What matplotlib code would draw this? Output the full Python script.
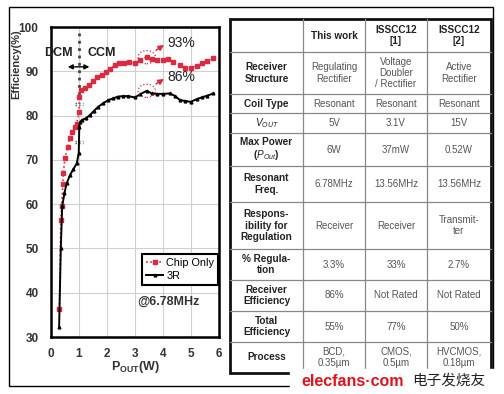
import numpy as np
import matplotlib
matplotlib.use('Agg')
import matplotlib.pyplot as plt
from matplotlib.patches import Ellipse, Rectangle

plt.rcParams['font.family'] = ['Liberation Sans', 'DejaVu Sans']
plt.rcParams['mathtext.fontset'] = 'custom'
plt.rcParams['mathtext.rm'] = 'Liberation Sans'
plt.rcParams['mathtext.it'] = 'Liberation Sans:italic'
plt.rcParams['mathtext.bf'] = 'Liberation Sans:bold'

# efficiency curves
chip_x = [0.30, 0.35, 0.38, 0.42, 0.44, 0.50, 0.60, 0.68, 0.76, 0.86,
          0.92, 1.00, 1.01, 1.08, 1.21, 1.37, 1.51, 1.65, 1.81, 1.96,
          2.11, 2.29, 2.43, 2.61, 2.80, 3.00, 3.18, 3.42, 3.60, 3.77,
          3.99, 4.19, 4.37, 4.61, 4.79, 4.99, 5.20, 5.38, 5.58, 5.80]
chip_y = [36.3, 56.5, 59.5, 64.5, 67.0, 70.5, 73.0, 75.0, 76.3, 77.5,
          78.2, 80.7, 84.3, 85.8, 86.2, 86.9, 87.7, 88.6, 89.2, 89.9,
          90.5, 91.4, 91.8, 91.8, 92.2, 91.8, 92.6, 93.2, 92.7, 92.6,
          92.6, 92.7, 92.2, 91.4, 90.8, 90.7, 91.2, 91.8, 92.3, 92.9]
r3_x = [0.29, 0.35, 0.40, 0.48, 0.56, 0.68, 0.80, 0.92, 0.99, 1.01,
        1.04, 1.10, 1.25, 1.39, 1.54, 1.69, 1.87, 2.05, 2.23, 2.40,
        2.58, 2.76, 3.00, 3.18, 3.42, 3.60, 3.77, 4.01, 4.25, 4.43,
        4.61, 4.79, 4.99, 5.20, 5.38, 5.58, 5.80]
r3_y = [32.2, 50.0, 59.5, 62.5, 64.7, 66.6, 67.9, 69.2, 71.5, 77.5,
        78.5, 79.0, 79.4, 80.1, 81.1, 82.0, 82.8, 83.5, 83.9, 84.3,
        84.4, 84.4, 84.1, 84.8, 85.6, 85.0, 84.9, 84.9, 85.0, 84.4,
        83.5, 83.3, 83.1, 83.7, 84.1, 84.5, 85.0]
peak_chip = (3.42, 93.2)
peak_r3 = (3.42, 85.6)

# comparison table
col_heads = ['', 'This work', 'ISSCC12\n[1]', 'ISSCC12\n[2]']
row_heads = ['Receiver\nStructure', 'Coil Type', r'$\mathit{V_{OUT}}$',
             'Max Power\n(' + r'$\mathit{P_{Out}}$' + ')', 'Resonant\nFreq.',
             'Respons-\nibility for\nRegulation', '% Regula-\ntion',
             'Receiver\nEfficiency', 'Total\nEfficiency', 'Process']
this_work = ['Regulating\nRectifier', 'Resonant', '5V', '6W', '6.78MHz',
             'Receiver', '3.3%', '86%', '55%', 'BCD,\n0.35\u00b5m']
isscc1 = ['Voltage\nDoubler\n/ Rectifier', 'Resonant', '3.1V', '37mW', '13.56MHz',
          'Receiver', '33%', 'Not Rated', '77%', 'CMOS,\n0.5\u00b5m']
isscc2 = ['Active\nRectifier', 'Resonant', '15V', '0.52W', '13.56MHz',
          'Transmit-\nter', '2.7%', 'Not Rated', '50%', 'HVCMOS,\n0.18\u00b5m']

# table layout in pixels
col_edges = [230, 303, 365, 427, 491]
row_edges = [19, 52, 94, 113, 133, 166, 202, 249, 280, 311, 342, 373]

W, H = 504, 394
fig = plt.figure(figsize=(W / 100, H / 100), dpi=100)

# ---- chart ----
ax = fig.add_axes([51 / W, (H - 337) / H, 168 / W, 310 / H])
ax.plot(chip_x, chip_y, color='#dc2a40', ls=':', lw=1.2, marker='s', ms=2.2,
        label='Chip Only', zorder=3)
ax.plot(r3_x, r3_y, color='black', ls='-', lw=1.4, marker='^', ms=2.0,
        label='3R', zorder=4)
ax.set_xlim(0, 6)
ax.set_ylim(30, 100)
ax.set_xticks(range(0, 7))
ax.set_yticks(range(30, 101, 10))
ax.grid(True, color='#d0d0d0', lw=0.8)
ax.tick_params(length=0, labelsize=8.5, labelcolor='#333333')
ax.tick_params(axis='y', pad=9)
ax.tick_params(axis='x', pad=8)
for lab in ax.get_xticklabels() + ax.get_yticklabels():
    lab.set_fontweight('bold')
for sp in ax.spines.values():
    sp.set_linewidth(1.8)
ax.set_ylabel('Efficiency(%)', fontsize=8, fontweight='bold', color='#333333')
ax.yaxis.set_label_coords(-0.178, 0.88)
ax.set_xlabel(r'$\mathbf{P_{OUT}(W)}$', fontsize=9, color='#333333', labelpad=-1)

leg = ax.legend(loc='lower left', bbox_to_anchor=(0.51, 0.15), fontsize=7.8,
                frameon=True, fancybox=False, handlelength=1.6, handletextpad=0.3,
                borderpad=0.35, labelspacing=0.35, framealpha=1)
leg.get_frame().set_edgecolor('black')
leg.get_frame().set_linewidth(1.5)
ax.text(0.515, 0.115, '@6.78MHz', transform=ax.transAxes, fontsize=9,
        fontweight='bold', color='#333333', va='center')

# DCM / CCM boundary
ax.plot([1, 1], [98.6, 84.5], color='#444444', ls=':', lw=2, zorder=2)
ax.annotate('', xy=(0.5, 91.0), xytext=(1.47, 91.0),
            arrowprops=dict(arrowstyle='<|-|>', color='black', lw=1, mutation_scale=7))
ax.text(0.27, 94.1, 'DCM', fontsize=9, fontweight='bold', color='#222222',
        ha='center', va='center')
ax.text(1.8, 94.1, 'CCM', fontsize=9, fontweight='bold', color='#222222',
        ha='center', va='center')
for yy in (82.9, 82.3, 74.3, 73.7):
    ax.plot([0.86, 1.16], [yy, yy], color='#555555', ls=':', lw=1, zorder=2)

# peak call-outs
for (px, py), txt, ty in ((peak_chip, '93%', 96.4), (peak_r3, '86%', 88.7)):
    ax.add_patch(Ellipse((px, py), 0.62, 3.0, fill=False, ls=':', lw=0.9,
                         edgecolor='#c8283c', zorder=5))
    ax.annotate('', xy=(4.12, ty - 0.1), xytext=(px + 0.25, py + 1.2),
                arrowprops=dict(arrowstyle='-|>', color='#dc2a40', lw=1.1,
                                mutation_scale=8))
    ax.text(4.15, ty, txt, fontsize=10, color='#222222', va='center')

# ---- table and frames (pixel coordinates) ----
ov = fig.add_axes([0, 0, 1, 1])
ov.set_xlim(0, W)
ov.set_ylim(H, 0)
ov.axis('off')
ov.patch.set_alpha(0)
ov.add_patch(Rectangle((9, 7), 484, 379, fill=False, lw=1, edgecolor='black'))

cols = [row_heads, this_work, isscc1, isscc2]
for j in range(4):
    xc = (col_edges[j] + col_edges[j + 1]) / 2
    ov.text(xc, (row_edges[0] + row_edges[1]) / 2, col_heads[j], ha='center',
            va='center', fontsize=7.2, fontweight='bold', color='#222222',
            linespacing=1.15)
    for i, cell in enumerate(cols[j]):
        yc = (row_edges[i + 1] + row_edges[i + 2]) / 2
        if j == 0:
            ov.text(xc, yc, cell, ha='center', va='center', fontsize=7.2,
                    fontweight='bold', color='#222222', linespacing=1.15)
        else:
            ov.text(xc, yc, cell, ha='center', va='center', fontsize=7,
                    color='#555555', linespacing=1.15)

for yy in row_edges[1:-1]:
    ov.plot([col_edges[0], col_edges[-1]], [yy, yy], color='#888888', lw=0.9)
for xx in col_edges[1:-1]:
    ov.plot([xx, xx], [row_edges[0], row_edges[-1]], color='#888888', lw=0.9)
ov.add_patch(Rectangle((col_edges[0], row_edges[0]), col_edges[-1] - col_edges[0],
                       row_edges[-1] - row_edges[0], fill=False, lw=2,
                       edgecolor='#111111'))

# watermark
ov.add_patch(Rectangle((290, 369), 214, 25, color='white', zorder=6))
ov.text(301, 381, 'elecfans\u00b7com', fontsize=11.5, fontweight='bold',
        color='#e0141e', va='center', ha='left', zorder=7)
ov.text(412, 381, '电子发烧友', fontsize=10.5, color='#222222', va='center',
        ha='left', family=['Noto Sans CJK SC', 'DejaVu Sans'], zorder=7)

fig.savefig('out.png', dpi=100)
